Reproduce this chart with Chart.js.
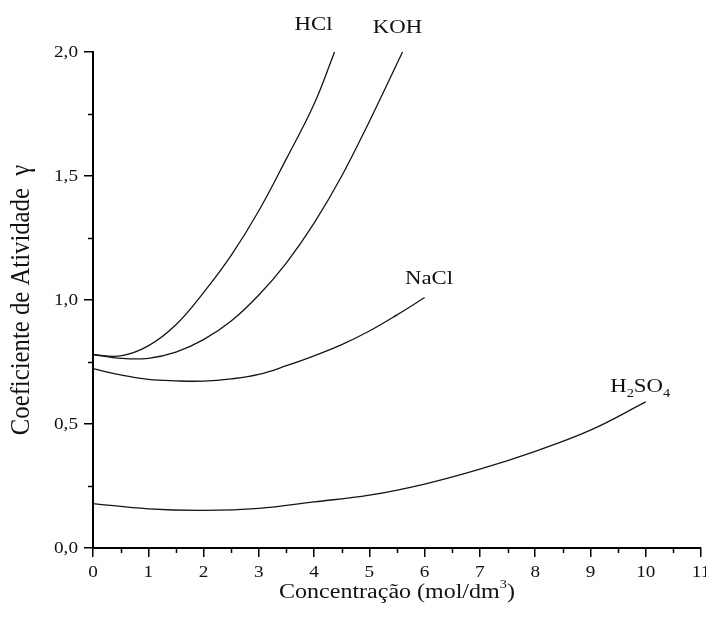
<!DOCTYPE html>
<html><head><meta charset="utf-8">
<script src="https://cdn.jsdelivr.net/npm/chart.js@4/dist/chart.umd.min.js"></script>
<style>html,body{margin:0;padding:0;background:#fff;}</style>
</head><body>
<canvas id="c" width="706" height="619"></canvas>
<script>
// ---- data ----
const seriesNames = ["HCl", "KOH", "NaCl", "H2SO4"];
const hclX  = [0, 0.5, 1, 1.5, 2, 2.5, 3, 3.5, 4, 4.37];
const hclY  = [0.78, 0.775, 0.815, 0.90, 1.03, 1.18, 1.36, 1.57, 1.79, 2.0];
const kohX  = [0, 0.5, 1, 1.5, 2, 2.5, 3, 3.5, 4, 4.5, 5, 5.6];
const kohY  = [0.78, 0.765, 0.765, 0.79, 0.84, 0.915, 1.02, 1.15, 1.31, 1.50, 1.72, 2.0];
const naclX = [0, 0.5, 1, 1.5, 2, 2.5, 3, 3.5, 4, 4.5, 5, 5.5, 6];
const naclY = [0.723, 0.698, 0.68, 0.674, 0.673, 0.682, 0.70, 0.735, 0.775, 0.82, 0.875, 0.94, 1.01];
const h2so4X = [0, 1, 2, 3, 4, 5, 6, 7, 8, 9, 10];
const h2so4Y = [0.179, 0.158, 0.152, 0.16, 0.186, 0.213, 0.258, 0.318, 0.39, 0.475, 0.589];
const xTickValues = [0,1,2,3,4,5,6,7,8,9,10,11];
const yTickValues = [0, 0.5, 1.0, 1.5, 2.0];
const xTitle = ["Concentração (mol/dm", "3", ")"];
const yTitle = "Coeficiente de Atividade  γ";
// label anchors (data units)
const labelX = [3.99, 5.51, 6.08, 9.9];
const labelY = [2.108, 2.096, 1.083, 0.651];

const toPts = (xs, ys) => xs.map((x, i) => ({x: x, y: ys[i]}));
const FONT = "'Liberation Serif', 'Times New Roman', serif";
const SX = 1.2; // horizontal stretch of the reference's lettering

const lineStyle = {
  showLine: true, pointRadius: 0, borderColor: '#151515', borderWidth: 1.3,
  tension: 0.4, fill: false, clip: false
};

function drawParts(ctx, parts, cx, cy, align) {
  // parts: [text, fontSize, dy]
  let w = 0;
  parts.forEach(p => { ctx.font = p[1] + 'px ' + FONT; w += ctx.measureText(p[0]).width; });
  ctx.save();
  ctx.translate(cx, cy);
  ctx.scale(SX, 1);
  let x = align === 'center' ? -w / 2 : (align === 'right' ? -w : 0);
  ctx.textAlign = 'left';
  ctx.textBaseline = 'middle';
  parts.forEach(p => {
    ctx.font = p[1] + 'px ' + FONT;
    ctx.fillText(p[0], x, p[2]);
    x += ctx.measureText(p[0]).width;
  });
  ctx.restore();
}

const textPlugin = {
  id: 'texts',
  afterDraw(chart) {
    const ctx = chart.ctx, xs = chart.scales.x, ys = chart.scales.y;
    const area = chart.chartArea;
    ctx.save();
    // minor ticks
    ctx.strokeStyle = '#000'; ctx.lineWidth = 1.5;
    for (let v = 0.5; v < 11; v += 1) {
      const px = Math.round(xs.getPixelForValue(v)) + 0.5;
      ctx.beginPath(); ctx.moveTo(px, area.bottom); ctx.lineTo(px, area.bottom + 5); ctx.stroke();
    }
    for (let v = 0.25; v < 2; v += 0.5) {
      const py = Math.round(ys.getPixelForValue(v)) + 0.5;
      ctx.beginPath(); ctx.moveTo(area.left, py); ctx.lineTo(area.left - 5, py); ctx.stroke();
    }
    ctx.fillStyle = '#111';
    // tick labels
    xTickValues.forEach(v => {
      drawParts(ctx, [[String(v), 16, 0]], xs.getPixelForValue(v), area.bottom + 24.5, 'center');
    });
    yTickValues.forEach(v => {
      drawParts(ctx, [[v.toFixed(1).replace('.', ','), 16, 0]], area.left - 15, ys.getPixelForValue(v) + 0.5, 'right');
    });
    // axis titles
    drawParts(ctx, [[xTitle[0], 20, 0], [xTitle[1], 12, -8], [xTitle[2], 20, 0]],
              (area.left + area.right) / 2, area.bottom + 45, 'center');
    ctx.save();
    ctx.translate(22, (area.top + area.bottom) / 2);
    ctx.rotate(-Math.PI / 2);
    ctx.font = '24px ' + FONT; ctx.textAlign = 'center'; ctx.textBaseline = 'middle';
    ctx.scale(1.03, 1.1);
    ctx.fillText(yTitle, 0, 0);
    ctx.restore();
    // curve labels
    seriesNames.forEach((name, i) => {
      const px = xs.getPixelForValue(labelX[i]);
      const py = ys.getPixelForValue(labelY[i]);
      if (name === 'H2SO4') {
        drawParts(ctx, [['H', 19, 0], ['2', 12, 7], ['SO', 19, 0], ['4', 12, 7]], px, py, 'center');
      } else {
        drawParts(ctx, [[name, 19, 0]], px, py, 'center');
      }
    });
    ctx.restore();
  }
};

new Chart(document.getElementById('c'), {
  type: 'scatter',
  data: {
    datasets: [
      Object.assign({label: seriesNames[0], data: toPts(hclX, hclY)}, lineStyle),
      Object.assign({label: seriesNames[1], data: toPts(kohX, kohY)}, lineStyle),
      Object.assign({label: seriesNames[2], data: toPts(naclX, naclY)}, lineStyle),
      Object.assign({label: seriesNames[3], data: toPts(h2so4X, h2so4Y)}, lineStyle)
    ]
  },
  options: {
    responsive: false, animation: false, devicePixelRatio: 1,
    layout: {padding: {left: 0, top: 52, right: 5, bottom: 0}},
    plugins: {legend: {display: false}, tooltip: {enabled: false}},
    scales: {
      x: {
        type: 'linear', min: 0, max: 11,
        afterBuildTicks: s => { s.ticks = xTickValues.map(v => ({value: v})); },
        afterFit: s => { s.height = 71; s.paddingLeft = 0; s.paddingRight = 0; },
        border: {display: true, color: '#000', width: 2},
        grid: {display: true, drawOnChartArea: false, drawTicks: true, tickLength: 9, color: '#000', lineWidth: 1.5},
        ticks: {display: false},
        title: {display: false}
      },
      y: {
        type: 'linear', min: 0, max: 2,
        afterBuildTicks: s => { s.ticks = yTickValues.map(v => ({value: v})); },
        afterFit: s => { s.width = 93; s.paddingTop = 0; s.paddingBottom = 0; },
        border: {display: true, color: '#000', width: 2},
        grid: {display: true, drawOnChartArea: false, drawTicks: true, tickLength: 9, color: '#000', lineWidth: 1.5},
        ticks: {display: false},
        title: {display: false}
      }
    }
  },
  plugins: [textPlugin]
});
</script>
</body></html>
